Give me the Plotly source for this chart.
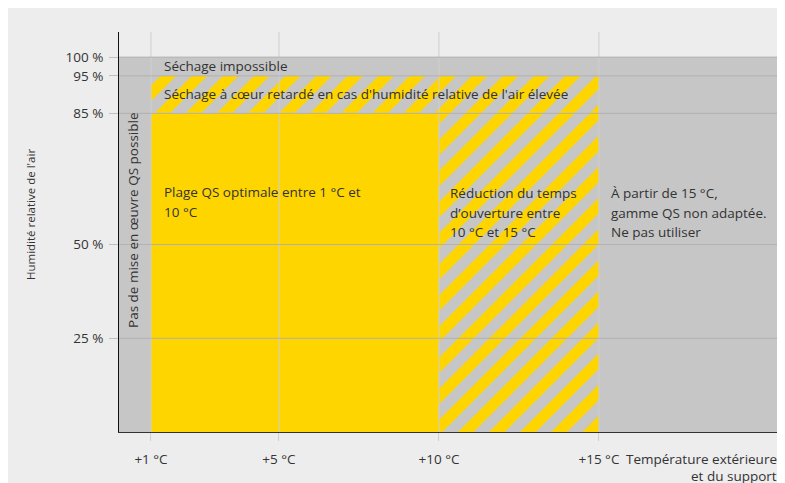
import plotly.graph_objects as go

# ---- data ----
x_ticks = [1, 5, 10, 15]
x_tick_labels = ["+1 °C", "+5 °C", "+10 °C", "+15 °C"]
y_ticks = [25, 50, 85, 95, 100]
y_tick_labels = ["25 %", "50 %", "85 %", "95 %", "100 %"]

x_max = 20.66
y_max = 106.7

# zones (temperature °C, humidity %)
grey_x = [0, x_max, x_max, 0, 0]
grey_y = [0, 0, 100, 100, 0]
optimal_x = [1, 10, 10, 1, 1]
optimal_y = [0, 0, 85, 85, 0]
hatch_x = [1, 15, 15, 10, 10, 1, 1]
hatch_y = [95, 95, 0, 0, 85, 85, 95]

FONT = "Open Sans"
FS = 13.5
TXT = "#333333"
YELLOW = "#FFD500"
GREY = "#C6C6C6"

fig = go.Figure()
fig.add_trace(go.Scatter(x=grey_x, y=grey_y, fill="toself", fillcolor=GREY,
                         mode="lines", line=dict(width=0), hoverinfo="skip"))
fig.add_trace(go.Scatter(x=optimal_x, y=optimal_y, fill="toself", fillcolor=YELLOW,
                         mode="lines", line=dict(width=0), hoverinfo="skip"))
fig.add_trace(go.Scatter(x=hatch_x, y=hatch_y, fill="toself",
                         fillpattern=dict(shape="/", fgcolor=YELLOW, bgcolor=GREY,
                                          size=22, solidity=0.5, fillmode="replace"),
                         mode="lines", line=dict(width=0), hoverinfo="skip"))

# grid lines drawn above the zones
vx, vy = [], []
for v in x_ticks:
    vx += [v, v, None]
    vy += [0, y_max, None]
fig.add_trace(go.Scatter(x=vx, y=vy, mode="lines", line=dict(color="#CFCFCF", width=1),
                         hoverinfo="skip"))
hx, hy = [], []
for v in y_ticks:
    hx += [0, x_max, None]
    hy += [v, v, None]
fig.add_trace(go.Scatter(x=hx, y=hy, mode="lines", line=dict(color="#B2B2B2", width=1),
                         hoverinfo="skip"))

ann = []
def A(x, y, text, size=FS, **kw):
    d = dict(x=x, y=y, text=text, showarrow=False, xanchor="left", yanchor="middle",
             font=dict(family=FONT, size=size, color=TXT))
    d.update(kw)
    ann.append(d)

A(1.34, 97.7, "Séchage impossible")
A(1.34, 90.2, "Séchage à cœur retardé en cas d'humidité relative de l'air élevée")
plage = ["Plage QS optimale entre 1 °C et", "10 °C"]
reduc = ["Réduction du temps", "d’ouverture entre", "10 °C et 15 °C"]
partir = ["À partir de 15 °C,", "gamme QS non adaptée.", "Ne pas utiliser"]
for i, t in enumerate(plage):
    A(1.34, (432 - (192 + 20 * i)) / 3.749, t)
for i, t in enumerate(reduc):
    A(10.28, (432 - (193 + 19.5 * i)) / 3.749, t)
for i, t in enumerate(partir):
    A(15.33, (432 - (193 + 19.5 * i)) / 3.749, t)
A(0.43, 56.5, "Pas de mise en œuvre QS possible", xanchor="center", textangle=-90)
A(-0.1346, 0.5425, "Humidité relative de l'air", size=11.5, xref="paper", yref="paper",
  xanchor="center", textangle=-90)
A(0.9985, -0.0675, "Température extérieure", xref="paper", yref="paper", xanchor="right")
A(0.9985, -0.111, "et du support", xref="paper", yref="paper", xanchor="right")

fig.update_layout(
    width=785, height=483,
    margin=dict(l=111, r=13, t=24, b=59),
    paper_bgcolor="#EDEDED", plot_bgcolor="rgba(0,0,0,0)",
    showlegend=False,
    annotations=ann,
    font=dict(family=FONT, size=FS, color=TXT),
    xaxis=dict(range=[0, x_max], tickvals=x_ticks, ticktext=x_tick_labels,
               showgrid=False, zeroline=False, showline=True, linecolor="#333333",
               linewidth=1, ticks="outside", ticklen=8, tickcolor="#CFCFCF",
               ticklabelstandoff=7, fixedrange=True),
    yaxis=dict(range=[0, y_max], tickvals=y_ticks, ticktext=y_tick_labels,
               showgrid=False, zeroline=False, showline=True, linecolor="#111111",
               linewidth=1, ticks="outside", ticklen=9, tickcolor="#C0C0C0",
               ticklabelstandoff=3, fixedrange=True),
)

fig.write_html("out.html")
